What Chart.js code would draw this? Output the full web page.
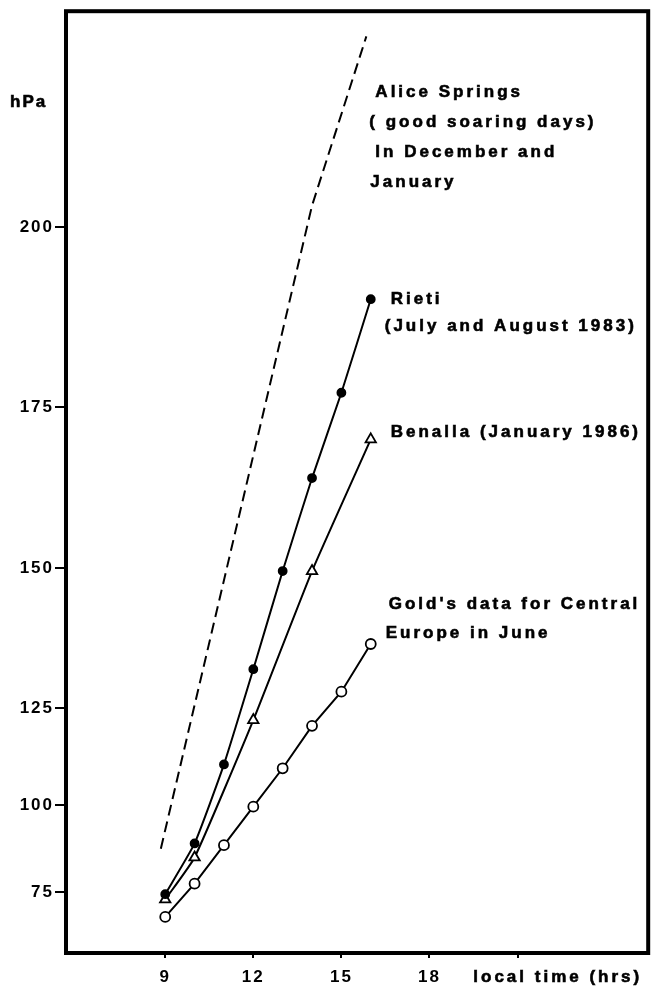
<!DOCTYPE html>
<html>
<head>
<meta charset="utf-8">
<title>hPa vs local time</title>
<script src="https://cdn.jsdelivr.net/npm/chart.js@4.4.1/dist/chart.umd.min.js"></script>
<style>
    html, body { margin: 0; padding: 0; background: #fff; }
    canvas { display: block; }
</style>
</head>
<body>
<canvas id="chart" width="656" height="989"></canvas>
<script>
// values
const hours = [9, 10, 11, 12, 13, 14, 15, 16];
const rietiValues = [74.5, 89, 110.5, 132, 149.5, 164, 177, 190];
const goldValues = [68, 77.5, 88.5, 99.5, 109.5, 120.5, 128, 136.5];
const benallaHours = [9, 10, 12, 14, 16];
const benallaValues = [73, 85, 122, 149.5, 170];
const aliceHours = [8.85, 14, 15.85];
const aliceValues = [87.5, 203, 226.5];

const yTickValues = [75, 100, 125, 150, 175, 200];
const xTickValues = [9, 12, 15, 18, 21];

// the printed hPa axis is not evenly spaced: relative gap between consecutive ticks
const yTickGaps = [88, 97, 141, 162, 181];

const FONT = '"Liberation Sans", Arial, Helvetica, sans-serif';

function warp(v) {
    const t = yTickValues;
    if (v <= t[0]) return (v - t[0]) / (t[1] - t[0]) * yTickGaps[0];
    let u = 0;
    for (let i = 0; i < yTickGaps.length; i++) {
        if (v <= t[i + 1] || i === yTickGaps.length - 1) {
            return u + (v - t[i]) / (t[i + 1] - t[i]) * yTickGaps[i];
        }
        u += yTickGaps[i];
    }
}

function unwarp(u) {
    const t = yTickValues;
    if (u <= 0) return t[0] + u / yTickGaps[0] * (t[1] - t[0]);
    let acc = 0;
    for (let i = 0; i < yTickGaps.length; i++) {
        if (u <= acc + yTickGaps[i] || i === yTickGaps.length - 1) {
            return t[i] + (u - acc) / yTickGaps[i] * (t[i + 1] - t[i]);
        }
        acc += yTickGaps[i];
    }
}

// linear scale stretched piece by piece between the printed ticks
class StretchedScale extends Chart.LinearScale {
    getPixelForValue(value) {
        if (value === null || value === undefined) return NaN;
        const u0 = warp(this.min), u1 = warp(this.max);
        return this.getPixelForDecimal((warp(value) - u0) / (u1 - u0));
    }
    getValueForPixel(pixel) {
        const u0 = warp(this.min), u1 = warp(this.max);
        return unwarp(u0 + this.getDecimalForPixel(pixel) * (u1 - u0));
    }
}
StretchedScale.id = 'stretched';
StretchedScale.defaults = Chart.LinearScale.defaults;
Chart.register(StretchedScale);

const toPoints = (xs, ys) => xs.map((x, i) => ({ x, y: ys[i] }));

// text beside the end of each curve: [text, dx, dy] from the last point
const seriesLabels = [
    { dataset: 0, lines: [['Alice Springs', 9, 56], ['( good soaring days)', 3, 86], ['In December and', 9, 116], ['January', 4, 146]] },
    { dataset: 1, lines: [['Rieti', 20, 0], ['(July and August 1983)', 14, 27]] },
    { dataset: 2, lines: [['Benalla (January 1986)', 20, -7]] },
    { dataset: 3, lines: [["Gold's data for Central", 18, -40], ['Europe in June', 15, -11]] }
];

const spacingPlugin = {
    id: 'spacing',
    beforeDraw(chart) {
        chart.ctx.letterSpacing = '2px';
    }
};

// heavier text, like the printed figure
function boldText(ctx, text, x, y) {
    ctx.fillText(text, x, y);
    ctx.strokeText(text, x, y);
}

const framePlugin = {
    id: 'frame',
    afterDraw(chart) {
        const { ctx, chartArea: a } = chart;
        ctx.save();
        ctx.strokeStyle = '#000';
        ctx.lineWidth = 4;
        ctx.strokeRect(a.left, a.top, a.right - a.left, a.bottom - a.top);

        ctx.fillStyle = '#000';
        ctx.lineWidth = 0.6;
        ctx.letterSpacing = '3px';
        ctx.font = 'bold 17px ' + FONT;
        ctx.textBaseline = 'middle';
        ctx.textAlign = 'left';

        seriesLabels.forEach(s => {
            const pts = chart.getDatasetMeta(s.dataset).data;
            const last = pts[pts.length - 1];
            s.lines.forEach(([text, dx, dy]) => {
                boldText(ctx, text, last.x + dx, last.y + dy);
            });
        });

        // axis titles
        ctx.letterSpacing = '2px';
        boldText(ctx, 'hPa', 10, 102);
        ctx.letterSpacing = '3px';
        ctx.textAlign = 'right';
        boldText(ctx, 'local time (hrs)', a.right - 6, 977);
        ctx.restore();
    }
};

const lineStyle = {
    borderColor: '#000',
    borderWidth: 2,
    pointBorderColor: '#000',
    pointBorderWidth: 1.8
};

new Chart(document.getElementById('chart'), {
    type: 'line',
    data: {
        datasets: [
            {
                label: 'Alice Springs',
                data: toPoints(aliceHours, aliceValues),
                ...lineStyle,
                borderDash: [11, 6],
                pointRadius: 0,
                tension: 0
            },
            {
                label: 'Rieti',
                data: toPoints(hours, rietiValues),
                ...lineStyle,
                pointStyle: 'circle',
                pointRadius: 4,
                pointBackgroundColor: '#000',
                tension: 0.15
            },
            {
                label: 'Benalla',
                data: toPoints(benallaHours, benallaValues),
                ...lineStyle,
                pointStyle: 'triangle',
                pointRadius: 6,
                pointBackgroundColor: '#fff',
                tension: 0.15
            },
            {
                label: "Gold's data",
                data: toPoints(hours, goldValues),
                ...lineStyle,
                pointStyle: 'circle',
                pointRadius: 5,
                pointBackgroundColor: '#fff',
                tension: 0
            }
        ]
    },
    options: {
        responsive: false,
        devicePixelRatio: 1,
        animation: false,
        layout: { padding: { top: 6, right: 3, left: 0, bottom: 0 } },
        plugins: {
            legend: { display: false },
            tooltip: { enabled: false }
        },
        scales: {
            x: {
                type: 'linear',
                min: 5.62,
                max: 25.45,
                afterBuildTicks: s => { s.ticks = xTickValues.map(v => ({ value: v })); },
                afterFit: s => { s.height = 36; },
                border: { display: false },
                grid: { drawOnChartArea: false, drawTicks: true, tickLength: 5, color: '#000', lineWidth: 2 },
                ticks: {
                    color: '#000',
                    padding: 9,
                    maxRotation: 0,
                    font: { family: FONT, size: 17, weight: 'bold' },
                    callback: v => (v === 21 ? '' : v)
                }
            },
            y: {
                type: 'stretched',
                min: 57.7,
                max: 230,
                afterBuildTicks: s => { s.ticks = yTickValues.map(v => ({ value: v })); },
                afterFit: s => { s.width = 66; },
                border: { display: false },
                grid: { drawOnChartArea: false, drawTicks: true, tickLength: 11, color: '#000', lineWidth: 2 },
                ticks: {
                    color: '#000',
                    padding: 1,
                    font: { family: FONT, size: 17, weight: 'bold' }
                }
            }
        }
    },
    plugins: [spacingPlugin, framePlugin]
});
</script>
</body>
</html>
